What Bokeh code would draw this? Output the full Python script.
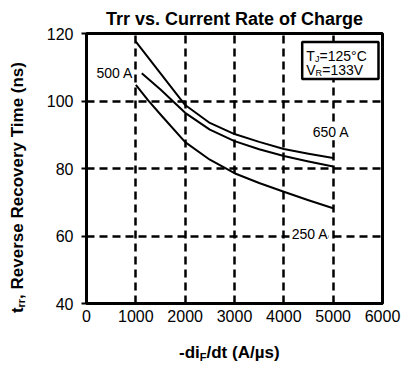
import math
from bokeh.plotting import figure
from bokeh.models import Label, BoxAnnotation, FixedTicker, Range1d, Div
from bokeh.layouts import row, column
from bokeh.embed import file_html
from bokeh.resources import INLINE

# ---- data ----
x_top = [1000, 1500, 2000, 2500, 3000, 3500, 4000, 4500, 5000]
trr_650 = [117.6, 108.2, 98.8, 93.5, 90.2, 87.9, 85.8, 84.4, 83.1]
x_mid = [1120, 1500, 2000, 2500, 3000, 3500, 4000, 4500, 5000]
trr_500 = [108.2, 103.4, 96.5, 91.5, 88.1, 85.7, 83.7, 82.1, 80.6]
x_bot = [1000, 1250, 1500, 2000, 2500, 3000, 3500, 4000, 4500, 5000]
trr_250 = [104.8, 100.2, 96.0, 87.8, 82.6, 78.6, 75.7, 73.1, 70.6, 68.2]
x_ticks = [0, 1000, 2000, 3000, 4000, 5000, 6000]
y_ticks = [40, 60, 80, 100, 120]
x_grid = [1000, 2000, 3000, 4000, 5000]
y_grid = [60, 80, 100]

FONT = "Liberation Sans"
O = 1            # observed page offset of the layout
YLW = 30         # width of the y-label column
BL, BR, BT, BB = 56, 19, 33, 26
FW, FH = 296, 270
W = BL + FW + BR
H = BT + FH + BB
X0, X1, Y0, Y1 = 0, 6000, 40, 120

p = figure(width=W, height=H, output_backend="svg", toolbar_location=None,
           x_range=Range1d(X0, X1), y_range=Range1d(Y0, Y1),
           min_border_left=BL, min_border_right=BR, min_border_top=BT, min_border_bottom=BB)
p.background_fill_color = "white"
p.border_fill_color = "white"
p.outline_line_color = "black"
p.outline_line_width = 3

p.title.text = "Trr vs. Current Rate of Charge"
p.title.align = "center"
p.title.text_font = FONT
p.title.text_font_size = "18px"
p.title.text_font_style = "bold"
p.title.text_color = "black"
p.title.standoff = 10

FL = O + YLW + BL   # page x of frame left
FT = O + BT         # page y of frame top

def PX(px):
    return (px - FL) * (X1 - X0) / FW + X0
def PY(py):
    return Y1 - (py - FT) * (Y1 - Y0) / FH

for ax in (p.xaxis[0], p.yaxis[0]):
    ax.axis_line_color = "black"
    ax.axis_line_width = 3
    ax.major_label_text_font = FONT
    ax.major_label_text_font_size = "16px"
    ax.major_label_text_color = "black"
    ax.minor_tick_line_color = None
    ax.major_tick_line_color = "black"
    ax.major_tick_line_width = 2

p.xaxis.ticker = FixedTicker(ticks=x_ticks)
p.yaxis.ticker = FixedTicker(ticks=y_ticks)
p.xaxis.major_tick_out = 0
p.xaxis.major_tick_in = 0
p.xaxis.major_label_standoff = 6
p.yaxis.major_tick_out = 5
p.yaxis.major_tick_in = 0
p.yaxis.major_label_standoff = 8

p.xgrid.ticker = FixedTicker(ticks=x_grid)
p.ygrid.ticker = FixedTicker(ticks=y_grid)
for g in (p.xgrid[0], p.ygrid[0]):
    g.grid_line_color = "black"
    g.grid_line_width = 2.5
    g.grid_line_dash = "8 5"

for xs, ys in ((x_top, trr_650), (x_mid, trr_500), (x_bot, trr_250)):
    p.line(xs, ys, line_color="black", line_width=2, line_join="round")

# condition box
p.add_layout(BoxAnnotation(left=PX(302.7), right=PX(379), top=PY(42.5), bottom=PY(79.5),
                           fill_color="white", fill_alpha=1.0,
                           line_color="black", line_alpha=1.0, line_width=2.5))

def lab(text, px, py, size, bold=False, bg=None):
    l = Label(x=PX(px), y=PY(py), text=text, text_font=FONT,
              text_font_size=f"{size}px", text_color="black",
              text_font_style="bold" if bold else "normal",
              text_align="left", text_baseline="alphabetic")
    if bg:
        l.background_fill_color = bg
        l.background_fill_alpha = 1.0
    p.add_layout(l)

lab("T", 306.7, 56.5, 14)
lab("J", 315.5, 59.0, 9)
lab("=125°C", 320.0, 56.5, 14)
lab("V", 306.7, 70.5, 14)
lab("R", 316.0, 73.0, 9)
lab("=133V", 322.7, 70.5, 14)

lab("500 A", 97, 73.3, 14, bg="white")
lab("650 A", 313.3, 132.7, 14, bg="white")
lab("250 A", 292.3, 234, 14, bg="white")

# axis titles as HTML text (for the subscripts)
ylab_html = (
    f"<div style=\"width:{YLW}px;height:{H}px;display:flex;align-items:center;"
    "justify-content:flex-start;padding-top:46px;padding-left:8px;box-sizing:border-box;\">"
    f"<span style=\"writing-mode:vertical-rl;transform:rotate(180deg);font-family:'{FONT}';"
    "font-weight:bold;font-size:17px;line-height:20px;white-space:nowrap;color:black;\">"
    "t<sub style=\"font-size:11px;line-height:0;vertical-align:-3px;\">rr</sub>, Reverse Recovery Time (ns)"
    "</span></div>"
)
ylab = Div(text=ylab_html, width=YLW, height=H, margin=0)

XLH = 39
xlab_html = (
    f"<div style=\"width:{YLW + W}px;height:{XLH}px;padding-left:179px;padding-top:15px;"
    f"box-sizing:border-box;font-family:'{FONT}';font-weight:bold;font-size:17px;"
    "line-height:17px;white-space:nowrap;color:black;\">"
    "-di<sub style=\"font-size:11px;line-height:0;vertical-align:-3px;\">F</sub>/dt (A/µs)"
    "</div>"
)
xlab = Div(text=xlab_html, width=YLW + W, height=XLH, margin=0)

layout = column(row(ylab, p, spacing=0), xlab, spacing=0)

open("out.html", "w").write(file_html(layout, INLINE))
